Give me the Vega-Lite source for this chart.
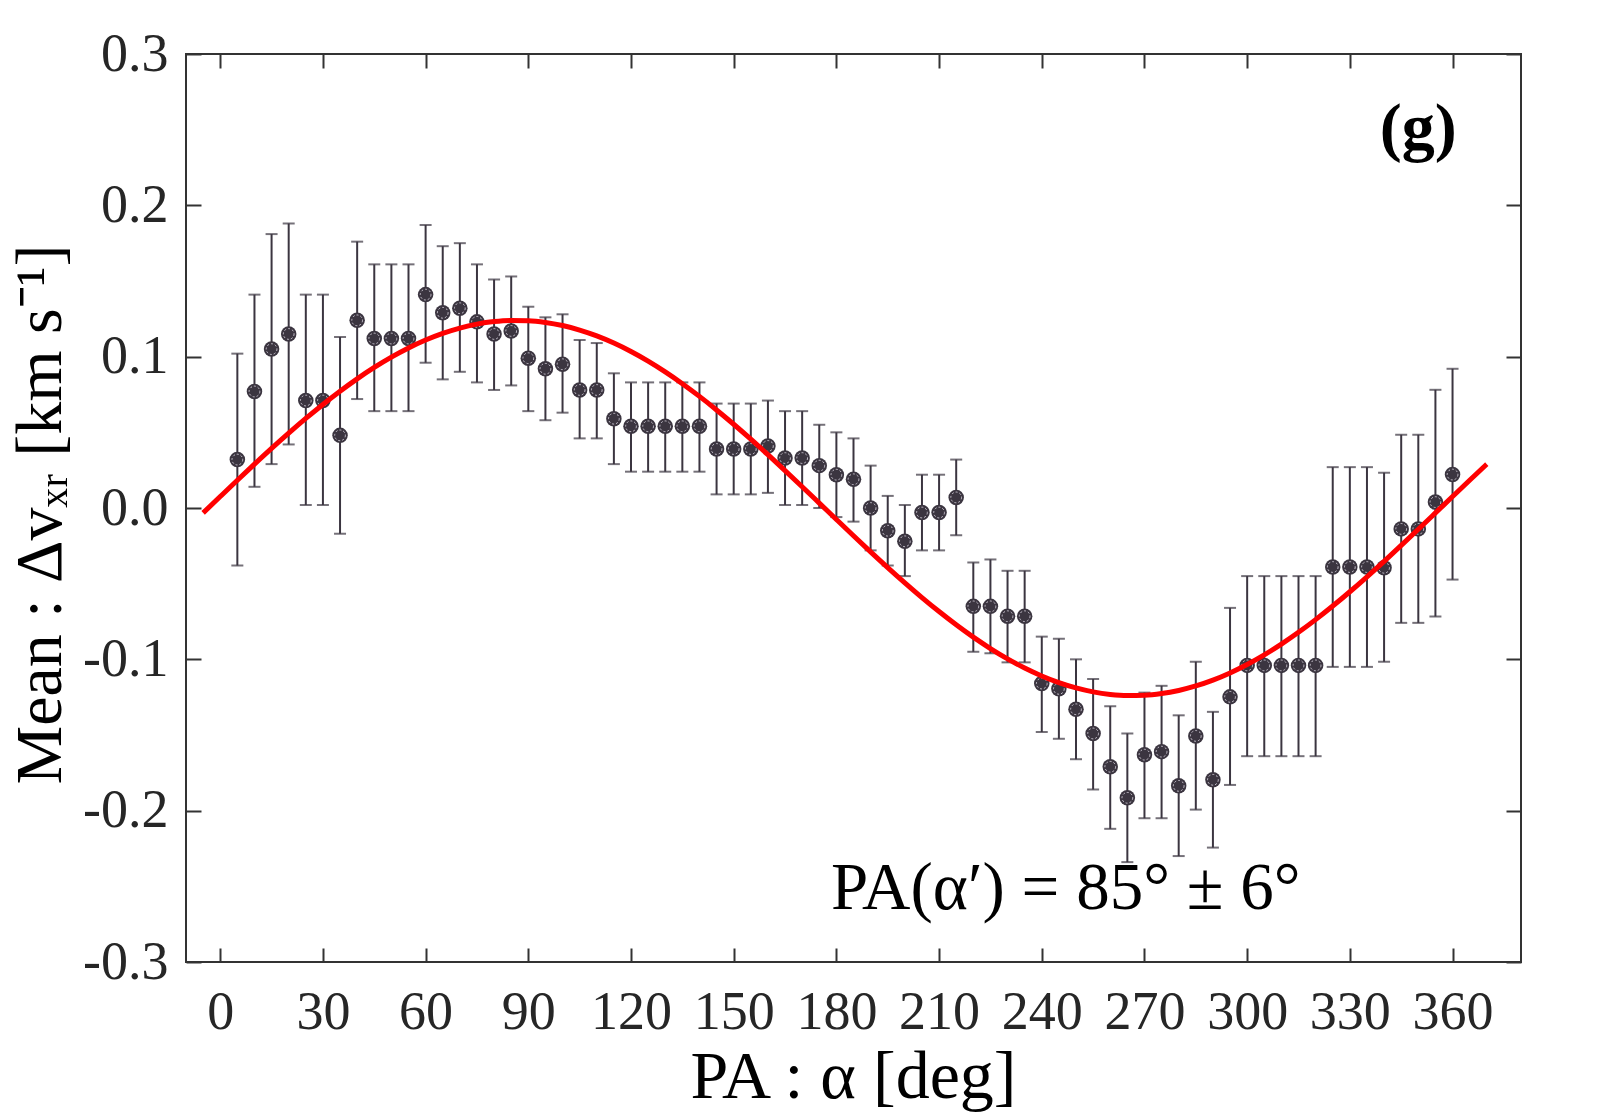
{
  "$schema": "https://vega.github.io/schema/vega-lite/v6.json",
  "description": "Mean delta v_xr versus position angle with a sinusoidal fit.",
  "width": 1335,
  "height": 908,
  "autosize": {"type": "none"},
  "padding": {"left": 186, "top": 54, "right": 79, "bottom": 158},
  "background": "white",
  "datasets": {
    "pts": [
      {"a": 5, "m": 0.032, "lo": -0.038, "hi": 0.102},
      {"a": 10, "m": 0.077, "lo": 0.014, "hi": 0.141},
      {"a": 15, "m": 0.105, "lo": 0.029, "hi": 0.181},
      {"a": 20, "m": 0.115, "lo": 0.042, "hi": 0.188},
      {"a": 25, "m": 0.071, "lo": 0.002, "hi": 0.141},
      {"a": 30, "m": 0.071, "lo": 0.002, "hi": 0.141},
      {"a": 35, "m": 0.048, "lo": -0.017, "hi": 0.113},
      {"a": 40, "m": 0.124, "lo": 0.072, "hi": 0.176},
      {"a": 45, "m": 0.112, "lo": 0.064, "hi": 0.161},
      {"a": 50, "m": 0.112, "lo": 0.064, "hi": 0.161},
      {"a": 55, "m": 0.112, "lo": 0.064, "hi": 0.161},
      {"a": 60, "m": 0.141, "lo": 0.096, "hi": 0.187},
      {"a": 65, "m": 0.129, "lo": 0.085, "hi": 0.173},
      {"a": 70, "m": 0.132, "lo": 0.090, "hi": 0.175},
      {"a": 75, "m": 0.123, "lo": 0.083, "hi": 0.161},
      {"a": 80, "m": 0.115, "lo": 0.078, "hi": 0.151},
      {"a": 85, "m": 0.117, "lo": 0.081, "hi": 0.153},
      {"a": 90, "m": 0.099, "lo": 0.064, "hi": 0.133},
      {"a": 95, "m": 0.092, "lo": 0.058, "hi": 0.126},
      {"a": 100, "m": 0.095, "lo": 0.063, "hi": 0.128},
      {"a": 105, "m": 0.078, "lo": 0.046, "hi": 0.111},
      {"a": 110, "m": 0.078, "lo": 0.046, "hi": 0.109},
      {"a": 115, "m": 0.059, "lo": 0.029, "hi": 0.089},
      {"a": 120, "m": 0.054, "lo": 0.024, "hi": 0.083},
      {"a": 125, "m": 0.054, "lo": 0.024, "hi": 0.083},
      {"a": 130, "m": 0.054, "lo": 0.024, "hi": 0.083},
      {"a": 135, "m": 0.054, "lo": 0.024, "hi": 0.083},
      {"a": 140, "m": 0.054, "lo": 0.024, "hi": 0.083},
      {"a": 145, "m": 0.039, "lo": 0.009, "hi": 0.069},
      {"a": 150, "m": 0.039, "lo": 0.009, "hi": 0.069},
      {"a": 155, "m": 0.039, "lo": 0.009, "hi": 0.069},
      {"a": 160, "m": 0.041, "lo": 0.010, "hi": 0.071},
      {"a": 165, "m": 0.033, "lo": 0.002, "hi": 0.064},
      {"a": 170, "m": 0.033, "lo": 0.002, "hi": 0.064},
      {"a": 175, "m": 0.028, "lo": 0.000, "hi": 0.055},
      {"a": 180, "m": 0.022, "lo": -0.006, "hi": 0.050},
      {"a": 185, "m": 0.019, "lo": -0.009, "hi": 0.046},
      {"a": 190, "m": 0.000, "lo": -0.028, "hi": 0.028},
      {"a": 195, "m": -0.015, "lo": -0.038, "hi": 0.008},
      {"a": 200, "m": -0.022, "lo": -0.045, "hi": 0.002},
      {"a": 205, "m": -0.003, "lo": -0.028, "hi": 0.022},
      {"a": 210, "m": -0.003, "lo": -0.028, "hi": 0.022},
      {"a": 215, "m": 0.007, "lo": -0.018, "hi": 0.032},
      {"a": 220, "m": -0.065, "lo": -0.095, "hi": -0.036},
      {"a": 225, "m": -0.065, "lo": -0.096, "hi": -0.034},
      {"a": 230, "m": -0.0715, "lo": -0.102, "hi": -0.0415},
      {"a": 235, "m": -0.0715, "lo": -0.102, "hi": -0.0415},
      {"a": 240, "m": -0.116, "lo": -0.148, "hi": -0.085},
      {"a": 245, "m": -0.1195, "lo": -0.1525, "hi": -0.0864},
      {"a": 250, "m": -0.133, "lo": -0.166, "hi": -0.100},
      {"a": 255, "m": -0.149, "lo": -0.186, "hi": -0.113},
      {"a": 260, "m": -0.171, "lo": -0.212, "hi": -0.131},
      {"a": 265, "m": -0.1915, "lo": -0.234, "hi": -0.149},
      {"a": 270, "m": -0.163, "lo": -0.205, "hi": -0.122},
      {"a": 275, "m": -0.161, "lo": -0.205, "hi": -0.1175},
      {"a": 280, "m": -0.1836, "lo": -0.230, "hi": -0.137},
      {"a": 285, "m": -0.1506, "lo": -0.1993, "hi": -0.1016},
      {"a": 290, "m": -0.1796, "lo": -0.2244, "hi": -0.1347},
      {"a": 295, "m": -0.1248, "lo": -0.183, "hi": -0.066},
      {"a": 300, "m": -0.104, "lo": -0.164, "hi": -0.045},
      {"a": 305, "m": -0.104, "lo": -0.164, "hi": -0.045},
      {"a": 310, "m": -0.104, "lo": -0.164, "hi": -0.045},
      {"a": 315, "m": -0.104, "lo": -0.164, "hi": -0.045},
      {"a": 320, "m": -0.104, "lo": -0.164, "hi": -0.045},
      {"a": 325, "m": -0.039, "lo": -0.105, "hi": 0.027},
      {"a": 330, "m": -0.039, "lo": -0.105, "hi": 0.027},
      {"a": 335, "m": -0.039, "lo": -0.105, "hi": 0.027},
      {"a": 340, "m": -0.0395, "lo": -0.1016, "hi": 0.0233},
      {"a": 345, "m": -0.0138, "lo": -0.0759, "hi": 0.0484},
      {"a": 350, "m": -0.0138, "lo": -0.0759, "hi": 0.0484},
      {"a": 355, "m": 0.0039, "lo": -0.0717, "hi": 0.0781},
      {"a": 360, "m": 0.0221, "lo": -0.0473, "hi": 0.092}
    ],
    "fit": [
      {"a": -5, "v": -0.00325}, {"a": 0, "v": 0.00757}, {"a": 5, "v": 0.01833},
      {"a": 10, "v": 0.02895}, {"a": 15, "v": 0.03935}, {"a": 20, "v": 0.04944},
      {"a": 25, "v": 0.05917}, {"a": 30, "v": 0.06844}, {"a": 35, "v": 0.07719},
      {"a": 40, "v": 0.08536}, {"a": 45, "v": 0.09287}, {"a": 50, "v": 0.09968},
      {"a": 55, "v": 0.10573}, {"a": 60, "v": 0.11097}, {"a": 65, "v": 0.11537},
      {"a": 70, "v": 0.11889}, {"a": 75, "v": 0.12151}, {"a": 80, "v": 0.12320},
      {"a": 85, "v": 0.12396}, {"a": 90, "v": 0.12377}, {"a": 95, "v": 0.12264},
      {"a": 100, "v": 0.12057}, {"a": 105, "v": 0.11759}, {"a": 110, "v": 0.11372},
      {"a": 115, "v": 0.10897}, {"a": 120, "v": 0.10340}, {"a": 125, "v": 0.09704},
      {"a": 130, "v": 0.08995}, {"a": 135, "v": 0.08216}, {"a": 140, "v": 0.07376},
      {"a": 145, "v": 0.06479}, {"a": 150, "v": 0.05533}, {"a": 155, "v": 0.04545},
      {"a": 160, "v": 0.03522}, {"a": 165, "v": 0.02472}, {"a": 170, "v": 0.01404},
      {"a": 175, "v": 0.00325}, {"a": 180, "v": -0.00757}, {"a": 185, "v": -0.01833},
      {"a": 190, "v": -0.02895}, {"a": 195, "v": -0.03935}, {"a": 200, "v": -0.04944},
      {"a": 205, "v": -0.05917}, {"a": 210, "v": -0.06844}, {"a": 215, "v": -0.07719},
      {"a": 220, "v": -0.08536}, {"a": 225, "v": -0.09287}, {"a": 230, "v": -0.09968},
      {"a": 235, "v": -0.10573}, {"a": 240, "v": -0.11097}, {"a": 245, "v": -0.11537},
      {"a": 250, "v": -0.11889}, {"a": 255, "v": -0.12151}, {"a": 260, "v": -0.12320},
      {"a": 265, "v": -0.12396}, {"a": 270, "v": -0.12377}, {"a": 275, "v": -0.12264},
      {"a": 280, "v": -0.12057}, {"a": 285, "v": -0.11759}, {"a": 290, "v": -0.11372},
      {"a": 295, "v": -0.10897}, {"a": 300, "v": -0.10340}, {"a": 305, "v": -0.09704},
      {"a": 310, "v": -0.08995}, {"a": 315, "v": -0.08216}, {"a": 320, "v": -0.07376},
      {"a": 325, "v": -0.06479}, {"a": 330, "v": -0.05533}, {"a": 335, "v": -0.04545},
      {"a": 340, "v": -0.03522}, {"a": 345, "v": -0.02472}, {"a": 350, "v": -0.01404},
      {"a": 355, "v": -0.00325}, {"a": 360, "v": 0.00757}, {"a": 365, "v": 0.01833},
      {"a": 370, "v": 0.02895}
    ],
    "notes": [
      {"a": 247, "v": -0.265, "t": "PA(α′) = 85° ± 6°"}
    ],
    "panel": [
      {"a": 350, "v": 0.237, "t": "(g)"}
    ]
  },
  "layer": [
    {
      "data": {"name": "pts"},
      "mark": {
        "type": "errorbar",
        "color": "#3b3540",
        "rule": {"strokeWidth": 2},
        "ticks": {"size": 12, "thickness": 2}
      },
      "encoding": {
        "x": {
          "field": "a", "type": "quantitative",
          "scale": {"domain": [-10, 380], "nice": false, "zero": false},
          "axis": {
            "orient": "bottom",
            "values": [0, 30, 60, 90, 120, 150, 180, 210, 240, 270, 300, 330, 360],
            "title": "PA : α [deg]",
            "titleX": 667,
            "titleY": 135,
            "titleBaseline": "alphabetic",
            "titleFontSize": 68,
            "titleFontWeight": "normal",
            "titleFont": "Liberation Serif",
            "titleColor": "#000000",
            "labelFont": "Liberation Serif",
            "labelFontSize": 54,
            "labelColor": "#262626",
            "labelBaseline": "alphabetic",
            "labelPadding": 80,
            "labelFlush": false,
            "labelOverlap": false,
            "tickSize": -14,
            "tickWidth": 2,
            "tickColor": "#333333",
            "domain": false,
            "grid": false
          }
        },
        "y": {
          "field": "lo", "type": "quantitative",
          "scale": {"domain": [-0.3, 0.3], "nice": false, "zero": false},
          "axis": {
            "orient": "left",
            "values": [-0.3, -0.2, -0.1, 0, 0.1, 0.2, 0.3],
            "labelExpr": "replace(format(datum.value, '.1f'), '−', '-')",
            "title": "Mean : Δvₓᵣ [km s⁻¹]",
            "titleX": -126,
            "titleY": 460,
            "titleAngle": -90,
            "titleAlign": "center",
            "titleBaseline": "alphabetic",
            "titleFontSize": 66,
            "titleFontWeight": "normal",
            "titleFont": "Liberation Serif",
            "titleColor": "#000000",
            "labelFont": "Liberation Serif",
            "labelFontSize": 54,
            "labelColor": "#262626",
            "labelPadding": 33,
            "labelFlush": false,
            "labelOverlap": false,
            "tickSize": -15,
            "tickWidth": 2,
            "tickColor": "#333333",
            "domain": false,
            "grid": false
          }
        },
        "y2": {"field": "hi"}
      }
    },
    {
      "data": {"name": "pts"},
      "mark": {"type": "point", "shape": "circle", "filled": true, "size": 240, "color": "#3b3540", "opacity": 1},
      "encoding": {
        "x": {"field": "a", "type": "quantitative", "scale": {"domain": [-10, 380], "nice": false, "zero": false}, "axis": null},
        "y": {"field": "m", "type": "quantitative", "scale": {"domain": [-0.3, 0.3], "nice": false, "zero": false}, "axis": null}
      }
    },
    {
      "data": {"name": "pts"},
      "mark": {"type": "point", "shape": "circle", "filled": false, "size": 115, "stroke": "#c9c4cf", "strokeWidth": 1, "strokeDash": [2, 2], "opacity": 1},
      "encoding": {
        "x": {"field": "a", "type": "quantitative", "scale": {"domain": [-10, 380], "nice": false, "zero": false}, "axis": null},
        "y": {"field": "m", "type": "quantitative", "scale": {"domain": [-0.3, 0.3], "nice": false, "zero": false}, "axis": null}
      }
    },
    {
      "data": {"name": "fit"},
      "mark": {"type": "line", "color": "#ff0000", "strokeWidth": 5, "interpolate": "monotone"},
      "encoding": {
        "x": {
          "field": "a", "type": "quantitative",
          "scale": {"domain": [-10, 380], "nice": false, "zero": false},
          "axis": {
            "orient": "top",
            "values": [0, 30, 60, 90, 120, 150, 180, 210, 240, 270, 300, 330, 360],
            "labels": false, "title": null, "domain": false, "grid": false,
            "tickSize": -14, "tickWidth": 2, "tickColor": "#333333"
          }
        },
        "y": {
          "field": "v", "type": "quantitative",
          "scale": {"domain": [-0.3, 0.3], "nice": false, "zero": false},
          "axis": {
            "orient": "right",
            "values": [-0.3, -0.2, -0.1, 0, 0.1, 0.2, 0.3],
            "labels": false, "title": null, "domain": false, "grid": false,
            "tickSize": -15, "tickWidth": 2, "tickColor": "#333333"
          }
        }
      }
    },
    {
      "data": {"name": "notes"},
      "mark": {"type": "text", "font": "Liberation Serif", "fontSize": 67, "align": "center", "baseline": "alphabetic", "color": "#000000"},
      "encoding": {
        "x": {"field": "a", "type": "quantitative", "scale": {"domain": [-10, 380], "nice": false, "zero": false}, "axis": null},
        "y": {"field": "v", "type": "quantitative", "scale": {"domain": [-0.3, 0.3], "nice": false, "zero": false}, "axis": null},
        "text": {"field": "t"}
      }
    },
    {
      "data": {"name": "panel"},
      "mark": {"type": "text", "font": "Liberation Serif", "fontSize": 66, "fontWeight": "bold", "align": "center", "baseline": "alphabetic", "color": "#000000"},
      "encoding": {
        "x": {"field": "a", "type": "quantitative", "scale": {"domain": [-10, 380], "nice": false, "zero": false}, "axis": null},
        "y": {"field": "v", "type": "quantitative", "scale": {"domain": [-0.3, 0.3], "nice": false, "zero": false}, "axis": null},
        "text": {"field": "t"}
      }
    }
  ],
  "resolve": {"axis": {"x": "independent", "y": "independent"}},
  "config": {
    "view": {"stroke": "#333333", "strokeWidth": 2},
    "font": "Liberation Serif"
  }
}
